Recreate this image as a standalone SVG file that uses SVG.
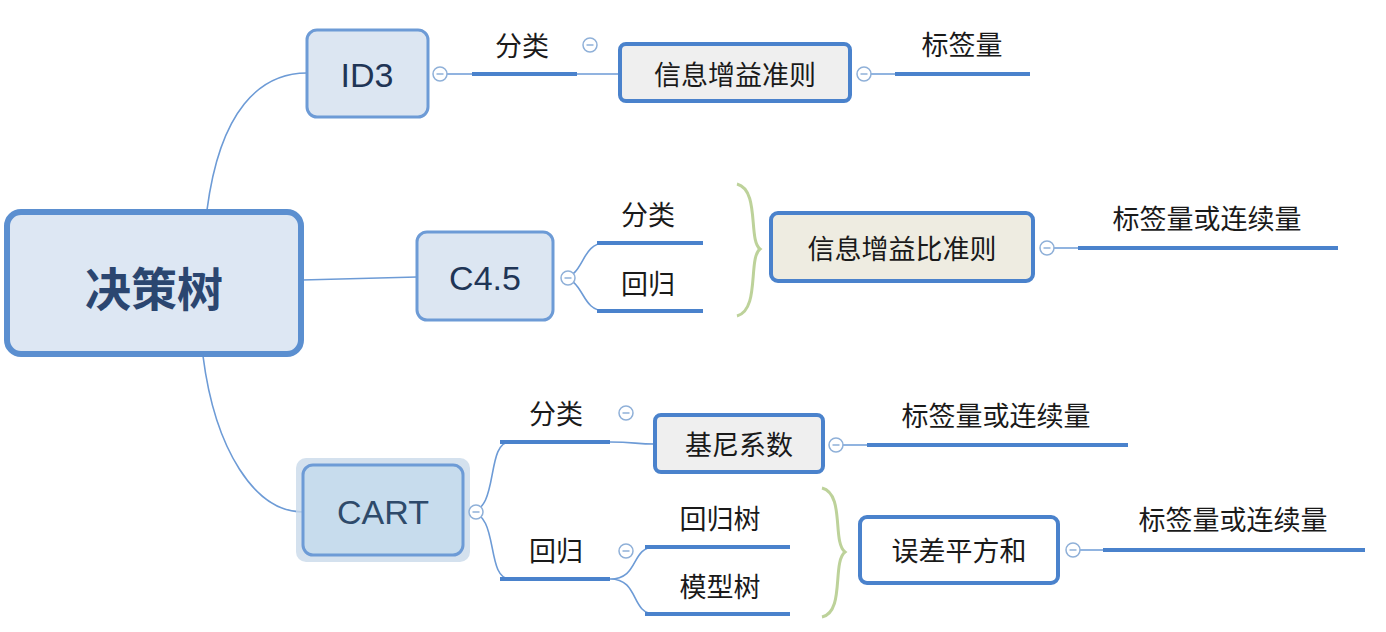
<svg xmlns="http://www.w3.org/2000/svg" width="1386" height="632" viewBox="0 0 1386 632">
<style>
text{font-family:"Liberation Sans","Noto Sans CJK SC",sans-serif;text-anchor:middle;dominant-baseline:central}
.lbl{font-size:27px;fill:#1a1a1a;font-family:"Noto Sans CJK SC",sans-serif}
.node{font-size:34px;fill:#1f3556}
.box{font-size:27px;fill:#1a1a1a;font-family:"Noto Sans CJK SC",sans-serif}
.thin{fill:none;stroke:#6d9bd6;stroke-width:1.6}
.ul{stroke:#4a82cc;stroke-width:4;stroke-linecap:butt}
.br{fill:none;stroke:#bdd29a;stroke-width:3}
.cc{fill:#fff;stroke:#8fb0d8;stroke-width:1.5}
.cm{stroke:#8fb0d8;stroke-width:1.5}
</style>
<defs>
<g id="col"><circle class="cc" r="7"/><line class="cm" x1="-3.5" y1="0" x2="3.5" y2="0"/></g>
</defs>
<g id="connectors">
<path class="thin" d="M207,210 C220,110 260,73 307,73"/>
<path class="thin" d="M302,280 L417,277"/>
<path class="thin" d="M203,356 C215,450 255,512 303,512"/>
<path class="thin" d="M433,74 H472 M577,74 H620"/>
<line class="ul" x1="472" y1="74" x2="577" y2="74"/>
<path class="thin" d="M857,74 H895"/>
<line class="ul" x1="895" y1="74" x2="1030" y2="74"/>
<path class="thin" d="M561,278 C585,278 580,243 605,243 M561,278 C585,278 580,311 605,311"/>
<line class="ul" x1="597" y1="243" x2="703" y2="243"/>
<line class="ul" x1="597" y1="311" x2="703" y2="311"/>
<path class="br" d="M737,184 C760,190 748,240 760,249 C748,258 760,310 737,316"/>
<path class="thin" d="M1040,248 H1078"/>
<line class="ul" x1="1078" y1="248" x2="1338" y2="248"/>
<path class="thin" d="M469,512 C500,512 485,442 510,442 M469,512 C500,512 485,579 510,579"/>
<line class="ul" x1="500" y1="442" x2="610" y2="442"/>
<line class="ul" x1="500" y1="579" x2="610" y2="579"/>
<path class="thin" d="M610,442 C635,442 635,444 655,444"/>
<path class="thin" d="M829,445 H867"/>
<line class="ul" x1="867" y1="445" x2="1128" y2="445"/>
<path class="thin" d="M610,579 C640,579 630,547 655,547 M610,579 C640,579 630,614 655,614"/>
<line class="ul" x1="645" y1="547" x2="790" y2="547"/>
<line class="ul" x1="645" y1="614" x2="790" y2="614"/>
<path class="br" d="M822,488 C845,494 832,542 845,552 C832,562 845,612 822,617"/>
<path class="thin" d="M1066,550 H1103"/>
<line class="ul" x1="1103" y1="550" x2="1365" y2="550"/>
</g>
<g id="root"><rect x="7" y="212" width="294" height="142" rx="14" fill="#dde7f3" stroke="#5b8fd0" stroke-width="6"/><text x="154" y="286" class="node" style="font-size:46px;font-weight:bold;fill:#2b4670;font-family:'Noto Sans CJK SC',sans-serif">决策树</text></g>
<g id="id3"><rect x="307" y="30" width="121" height="87" rx="10" fill="#dce6f2" stroke="#6d9bd6" stroke-width="3"/><text x="367" y="75" class="node">ID3</text><use href="#col" x="440" y="74"/></g>
<g id="c45"><rect x="417" y="232" width="136" height="88" rx="10" fill="#dce6f2" stroke="#6d9bd6" stroke-width="3"/><text x="485" y="278" class="node">C4.5</text><use href="#col" x="568" y="278"/></g>
<g id="cart"><rect x="296" y="458" width="174" height="104" rx="10" fill="#c9d9ea" opacity="0.8"/><rect x="303" y="465" width="160" height="90" rx="10" fill="#c7dced" stroke="#6d9bd6" stroke-width="3"/><text x="383" y="512" class="node" style="fill:#2e4a6a">CART</text><use href="#col" x="476" y="512"/></g>
<g id="id3-cls"><text x="522" y="44" class="lbl">分类</text><use href="#col" x="590" y="45"/></g>
<g id="id3-crit"><rect x="620" y="44" width="230" height="57" rx="6" fill="#efefef" stroke="#4a82cc" stroke-width="4"/><text x="735" y="73" class="box">信息增益准则</text><use href="#col" x="864" y="74"/></g>
<g id="id3-out"><text x="962" y="43" class="lbl">标签量</text></g>
<g id="c45-cls"><text x="648" y="213" class="lbl">分类</text></g>
<g id="c45-reg"><text x="648" y="282" class="lbl">回归</text></g>
<g id="c45-crit"><rect x="771" y="213" width="262" height="68" rx="7" fill="#eeece1" stroke="#4a82cc" stroke-width="4"/><text x="902" y="247" class="box">信息增益比准则</text><use href="#col" x="1047" y="248"/></g>
<g id="c45-out"><text x="1207" y="217" class="lbl">标签量或连续量</text></g>
<g id="cart-cls"><text x="556" y="412" class="lbl">分类</text><use href="#col" x="626" y="413"/></g>
<g id="gini"><rect x="655" y="415" width="168" height="57" rx="6" fill="#efefef" stroke="#4a82cc" stroke-width="4"/><text x="739" y="443" class="box">基尼系数</text><use href="#col" x="836" y="445"/></g>
<g id="gini-out"><text x="996" y="414" class="lbl">标签量或连续量</text></g>
<g id="cart-reg"><text x="556" y="549" class="lbl">回归</text><use href="#col" x="626" y="551"/></g>
<g id="regtree"><text x="720" y="517" class="lbl">回归树</text></g>
<g id="modeltree"><text x="720" y="585" class="lbl">模型树</text></g>
<g id="sse"><rect x="860" y="517" width="198" height="66" rx="7" fill="#fff" stroke="#4a82cc" stroke-width="4"/><text x="959" y="549" class="box">误差平方和</text><use href="#col" x="1073" y="550"/></g>
<g id="sse-out"><text x="1233" y="518" class="lbl">标签量或连续量</text></g>
</svg>
